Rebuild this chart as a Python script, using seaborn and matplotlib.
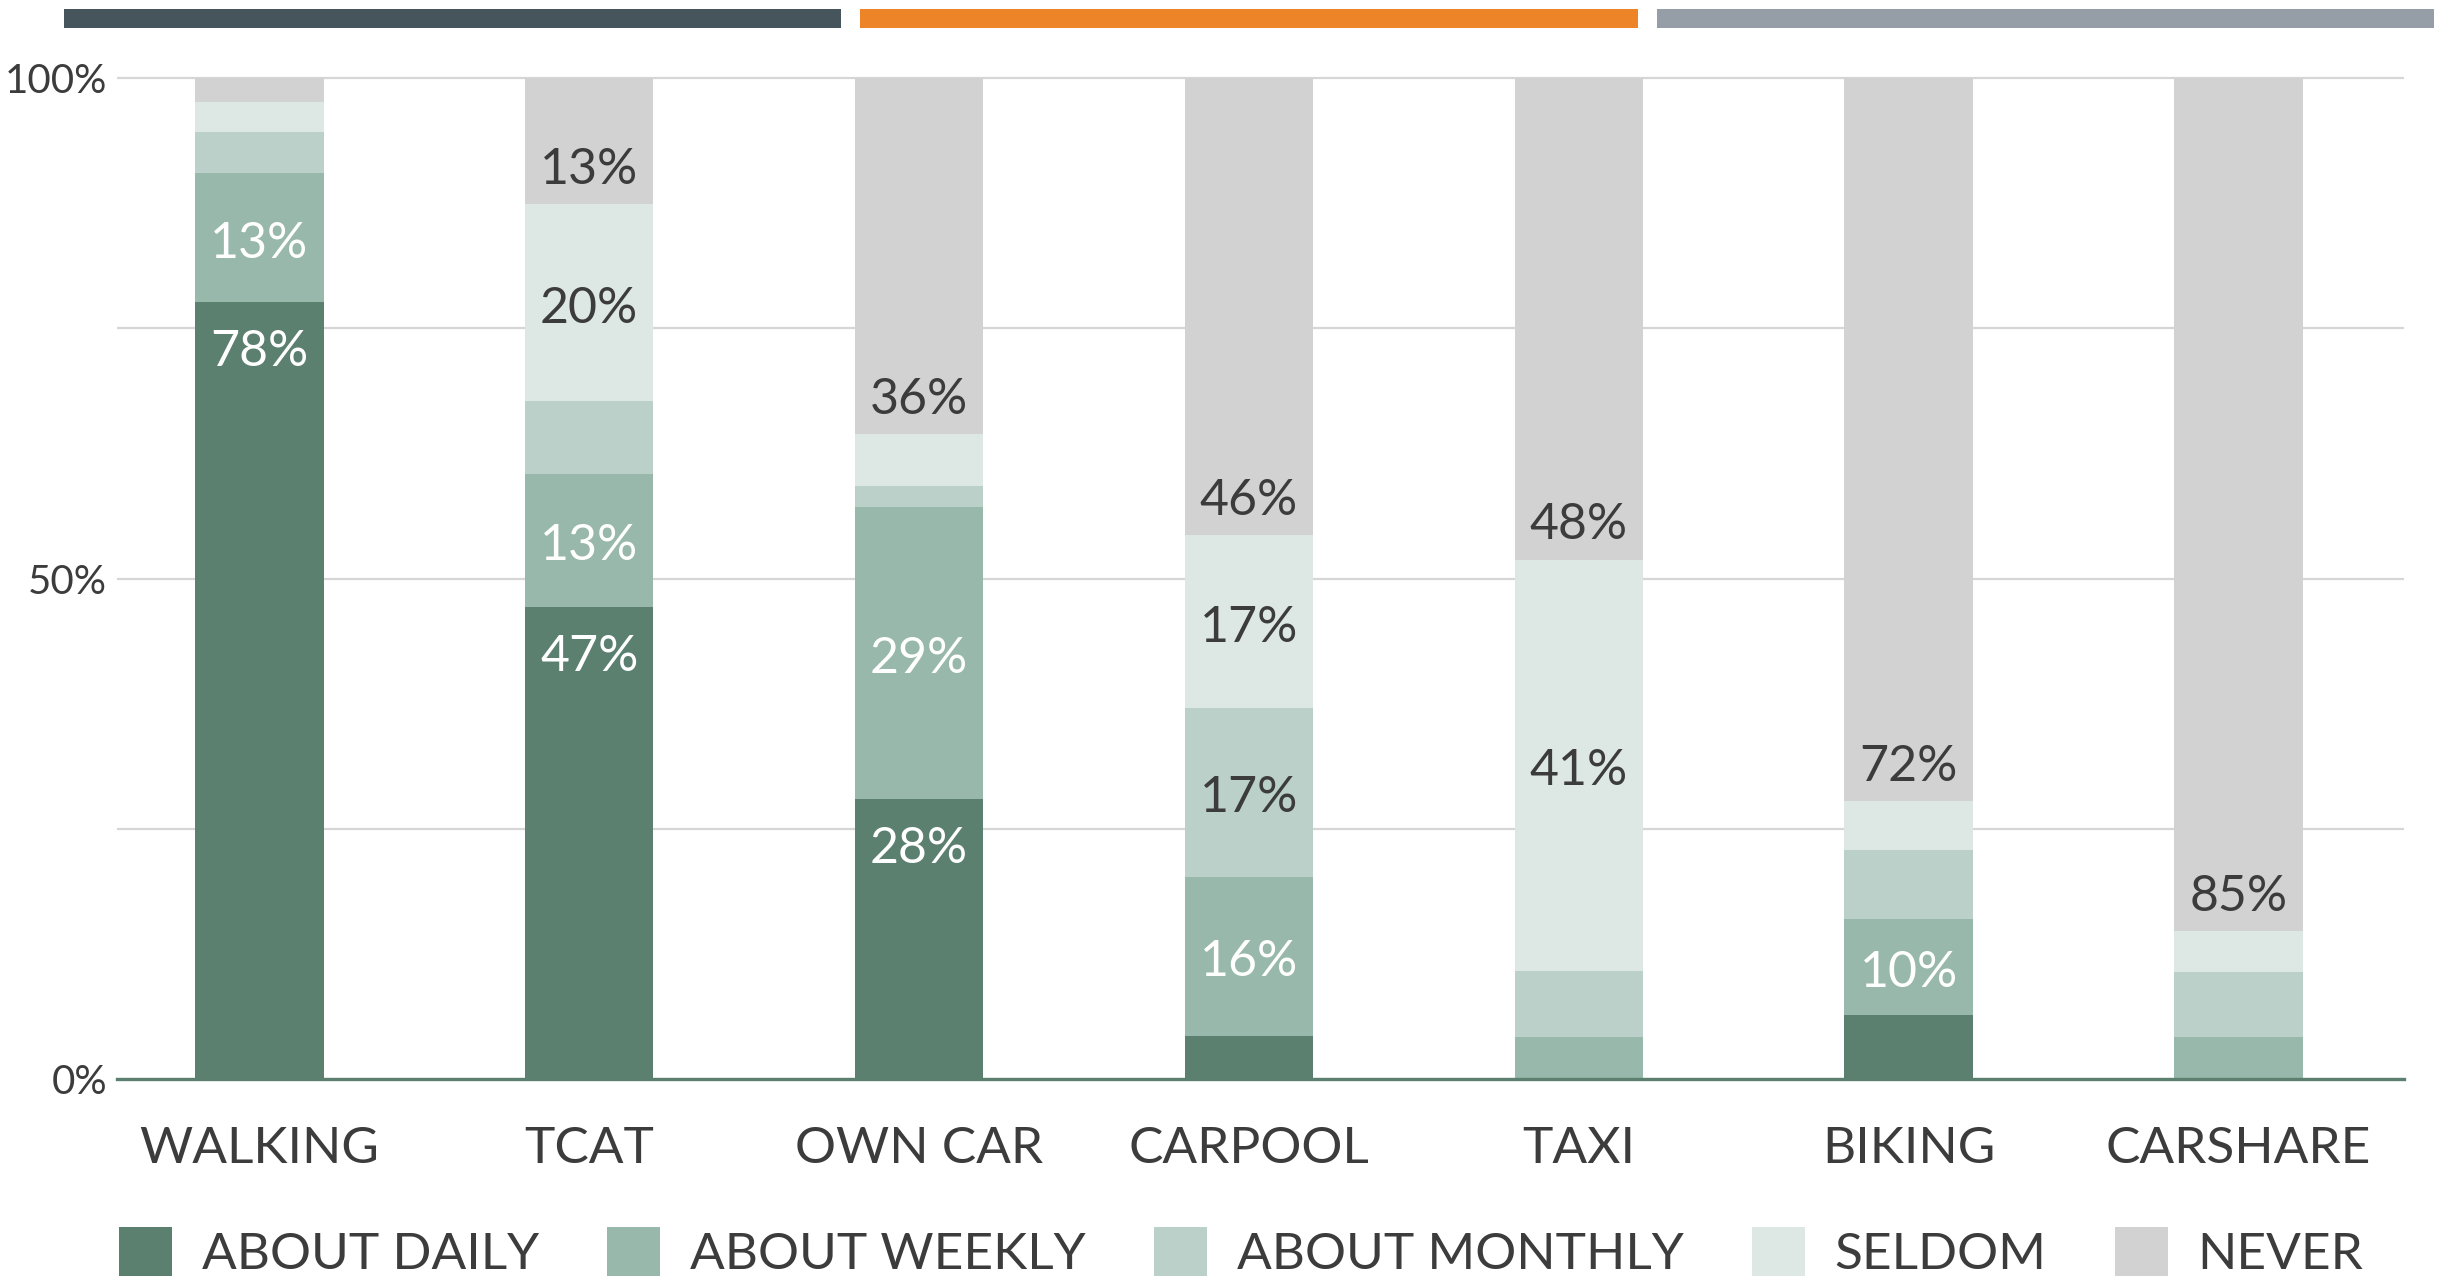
import numpy as np
import pandas as pd
import seaborn as sns
import matplotlib.pyplot as plt
from matplotlib.patches import Rectangle, Patch

# survey shares (%) per travel mode, bottom to top of each stack
modes = ["WALKING", "TCAT", "OWN CAR", "CARPOOL", "TAXI", "BIKING", "CARSHARE"]
freqs = ["ABOUT DAILY", "ABOUT WEEKLY", "ABOUT MONTHLY", "SELDOM", "NEVER"]
daily = [77.6, 47.2, 28.0, 4.3, 0.0, 6.4, 0.0]
weekly = [12.9, 13.2, 29.1, 15.9, 4.2, 9.6, 4.2]
monthly = [4.1, 7.3, 2.1, 16.9, 6.6, 6.9, 6.5]
seldom = [3.0, 19.7, 5.2, 17.2, 41.1, 4.9, 4.1]
never = [2.4, 12.6, 35.6, 45.7, 48.1, 72.2, 85.2]

colors = ["#5b8070", "#97b8aa", "#bad0c8", "#dde8e4", "#d2d2d2"]
label_colors = ["white", "white", "#3c3c3c", "#3c3c3c", "#3c3c3c"]
header_colors = ["#46555c", "#ee8428", "#959da6"]
txt = "#3c3c3c"

sns.set_style("white")
plt.rcParams["font.family"] = ["Lato", "DejaVu Sans"]

shares = np.array([daily, weekly, monthly, seldom, never])
cum = shares.cumsum(axis=0)

fig = plt.figure(figsize=(24.51, 12.78), dpi=100)
ax = fig.add_axes([0.0477, 0.1557, 0.9331, 0.7848])

# stacked bars: draw the tallest cumulative layer first
for i in range(len(freqs) - 1, -1, -1):
    df = pd.DataFrame({"mode": modes, "cum": cum[i]})
    sns.barplot(data=df, x="mode", y="cum", color=colors[i], saturation=1,
                width=0.389, linewidth=0, errorbar=None, ax=ax, zorder=2)

# value labels for segments of 10% or more
for i in range(len(freqs)):
    for j in range(len(modes)):
        v = shares[i, j]
        if v < 9.5:
            continue
        bottom = cum[i, j] - v
        top = cum[i, j]
        if i == 0:
            y = top - 4.4
        elif i == len(freqs) - 1:
            y = bottom + 4.0
        else:
            y = (bottom + top) / 2
        ax.text(j, y - 0.6, f"{v:.0f}%", ha="center", va="center",
                fontsize=36, color=label_colors[i], zorder=3)

ax.set_xlim(-0.432, 6.502)
ax.set_ylim(0, 100.2)
ax.set_yticks([0, 25, 50, 75, 100])
ax.set_yticklabels(["0%", "", "50%", "", "100%"])
ax.set_xlabel("")
ax.set_ylabel("")
ax.grid(axis="y", color="#d6d6d6", linewidth=1.6)
ax.set_axisbelow(True)
for s in ["top", "left", "right"]:
    ax.spines[s].set_visible(False)
ax.spines["bottom"].set_color("#5b8070")
ax.spines["bottom"].set_linewidth(2.4)
ax.spines["bottom"].set_zorder(4)
ax.tick_params(axis="x", length=0, pad=34, labelsize=37, colors=txt)
ax.tick_params(axis="y", length=0, pad=7, labelsize=29, colors=txt)

# legend along the bottom edge
handles = [Patch(facecolor=c, edgecolor="none", label=f) for c, f in zip(colors, freqs)]
fig.legend(handles=handles, loc="lower left", bbox_to_anchor=(119 / 2451, 0.0),
           ncol=5, frameon=False, fontsize=37, labelcolor=txt,
           handlelength=1.03, handleheight=1.07, handletextpad=0.58,
           columnspacing=1.33, borderaxespad=0, borderpad=0)

# coloured header strips
strip_w = 777 / 2451
gap = 19.5 / 2451
for k, c in enumerate(header_colors):
    fig.add_artist(Rectangle((64 / 2451 + k * (strip_w + gap), 1 - 28 / 1278),
                             strip_w, 19 / 1278, transform=fig.transFigure,
                             facecolor=c, edgecolor="none"))

fig.savefig("out.png", dpi=100)
